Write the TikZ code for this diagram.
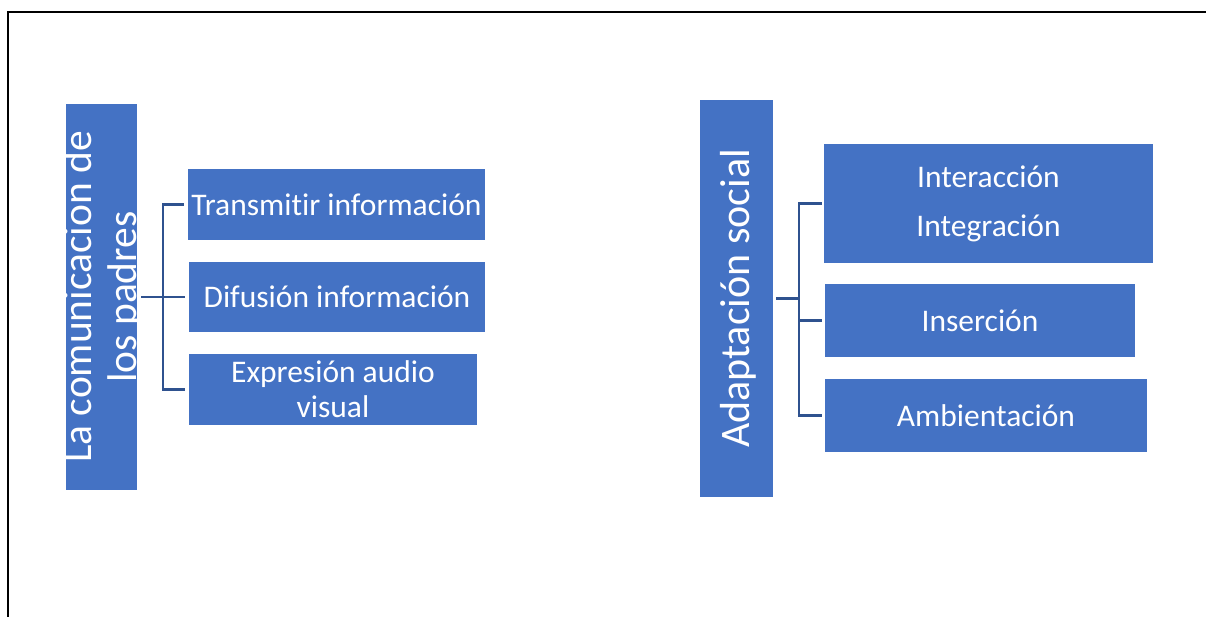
\documentclass[tikz,border=0pt]{standalone}
\usepackage{fontspec}
\setmainfont[Ligatures=NoCommon]{Carlito}
\definecolor{boxblue}{HTML}{4472C4}
\definecolor{linkblue}{RGB}{47,82,143}
\begin{document}
\begin{tikzpicture}[x=1pt,y=-1pt,
  box/.style={rectangle, fill=boxblue, draw=none, inner sep=0pt},
  bigtext/.style={text=white, align=center, inner sep=0pt, font=\fontsize{41.5}{45}\selectfont},
  smalltext/.style={text=white, align=center, inner sep=0pt},
  link/.style={draw=linkblue, line width=2.6pt},
  frame/.style={draw=black, line width=2.8pt}]
\useasboundingbox (0,0) rectangle (1206,617);
% frame
\coordinate (f1) at (8,617);
\coordinate (f2) at (8,12);
\coordinate (f3) at (1206,12);
\draw[frame] (f1) -- (f2) -- (f3);

% left group
\node[box, minimum width=71pt, minimum height=386pt] (L) at (101.5,297) {};
\node[bigtext, rotate=90] (Lt) at (103,297) {La comunicacion de\\los padres};
\node[box, minimum width=297pt, minimum height=71pt] (T) at (336.5,204.5) {};
\node[smalltext, font=\fontsize{31.5}{35}\selectfont] (Tt) at (T.center) {Transmitir información};
\node[box, minimum width=296pt, minimum height=70pt] (D) at (337,297) {};
\node[smalltext, font=\fontsize{31.5}{35}\selectfont] (Dt) at (D.center) {Difusión información};
\node[box, minimum width=288pt, minimum height=71pt] (E) at (333,389.5) {};
\node[smalltext, font=\fontsize{31.5}{35}\selectfont] (Et) at (E.center) {Expresión audio\\visual};

\draw[link] ([xshift=4pt]L.east) -- ([xshift=-4pt]D.west);
\draw[link] ([xshift=-4pt]T.west) -- ([xshift=-25pt]T.west) |- ([xshift=-4pt]E.west);

% right group
\node[box, minimum width=73pt, minimum height=397pt] (A) at (736.5,298.5) {};
\node[bigtext, font=\fontsize{42}{46}\selectfont, rotate=90] (At) at (738,298.5) {Adaptación social};
\node[box, minimum width=329pt, minimum height=119pt] (I) at (988.5,203.5) {};
\node[smalltext, font=\fontsize{31.5}{49}\selectfont] (It) at (I.center) {Interacción\\Integración};
\node[box, minimum width=310pt, minimum height=73pt] (S) at (980,320.5) {};
\node[smalltext, font=\fontsize{31.5}{35}\selectfont] (St) at (S.center) {Inserción};
\node[box, minimum width=322pt, minimum height=73pt] (M) at (986,415.5) {};
\node[smalltext, font=\fontsize{31.5}{35}\selectfont] (Mt) at (M.center) {Ambientación};

\draw[link] ([xshift=3pt]A.east) -- ([xshift=27pt]A.east);
\draw[link] ([xshift=-2pt]I.west) -- ([xshift=-25pt]I.west) |- ([xshift=-3pt]M.west);
\draw[link] ([xshift=-3pt]S.west) -- ([xshift=-25pt]S.west);
\end{tikzpicture}
\end{document}
